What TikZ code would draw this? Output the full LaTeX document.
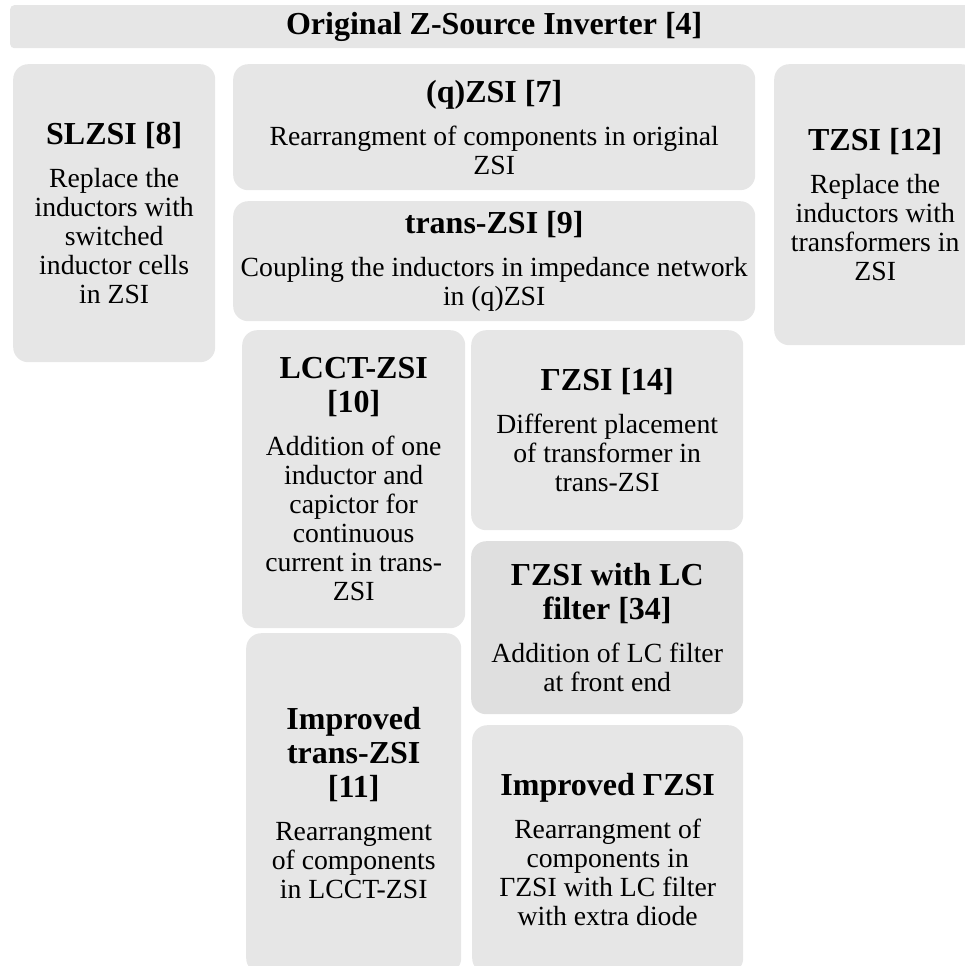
\documentclass[tikz,border=0pt]{standalone}
\usepackage{fontspec}
\setmainfont{Liberation Serif}
\definecolor{boxgray}{HTML}{E6E6E6}
\definecolor{boxdark}{HTML}{DFDFDF}
\newcommand\boxtitle[1]{{\fontsize{32}{34}\selectfont\bfseries #1}}

\begin{document}
\begin{tikzpicture}[x=1pt,y=-1pt,
  zsibox/.style={fill=boxgray,rounded corners=15pt,inner sep=0pt,align=center,anchor=north west,
    font=\fontsize{27.7}{29}\selectfont},
  zsisize/.style 2 args={minimum width=#1pt,minimum height=#2pt}]
\useasboundingbox (0,0) rectangle (965,966);
\clip (0,0) rectangle (965,966);
\node[zsibox,zsisize={968}{43},rounded corners=4pt] (orig) at (10,5) {\boxtitle{Original Z-Source Inverter [4]}};
\node[zsibox,zsisize={202}{298}] (slzsi) at (13,64) {\boxtitle{SLZSI [8]}\\[14pt]Replace the\\inductors with\\switched\\inductor cells\\in ZSI};
\node[zsibox,zsisize={522}{126}] (qzsi) at (233,64) {\boxtitle{(q)ZSI [7]}\\[14pt]Rearrangment of components in original\\ZSI};
\node[zsibox,zsisize={522}{120}] (transzsi) at (233,201) {\boxtitle{trans-ZSI [9]}\\[14pt]Coupling the inductors in impedance network\\in (q)ZSI};
\node[zsibox,zsisize={202}{281}] (tzsi) at (774,64) {\boxtitle{TZSI [12]}\\[14pt]Replace the\\inductors with\\transformers in\\ZSI};
\node[zsibox,zsisize={223}{298}] (lcct) at (242,330) {\boxtitle{LCCT-ZSI}\\[5pt]\boxtitle{[10]}\\[14pt]Addition of one\\inductor and\\capictor for\\continuous\\current in trans-\\ZSI};
\node[zsibox,zsisize={272}{200}] (gzsi) at (471,330) {\boxtitle{ΓZSI [14]}\\[14pt]Different placement\\of transformer in\\trans-ZSI};
\node[zsibox,zsisize={272}{173},fill=boxdark] (gzsilc) at (471,541) {\boxtitle{ΓZSI with LC}\\[5pt]\boxtitle{filter [34]}\\[14pt]Addition of LC filter\\at front end};
\node[zsibox,zsisize={215}{340}] (imptrans) at (246,633) {\boxtitle{Improved}\\[5pt]\boxtitle{trans-ZSI}\\[5pt]\boxtitle{[11]}\\[14pt]Rearrangment\\of components\\in LCCT-ZSI};
\node[zsibox,zsisize={271}{248}] (impg) at (472,725) {\boxtitle{Improved ΓZSI}\\[14pt]Rearrangment of\\components in\\ΓZSI with LC filter\\with extra diode};
\end{tikzpicture}
\end{document}
